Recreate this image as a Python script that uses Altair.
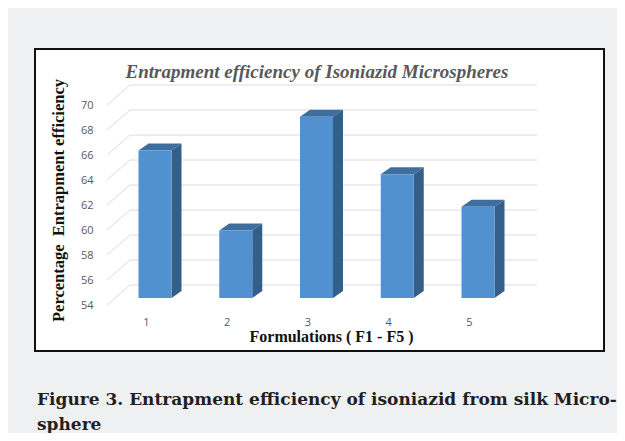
import altair as alt
import pandas as pd

# ---- data ----
formulations = [1, 2, 3, 4, 5]
values = [65.8, 59.4, 68.5, 63.9, 61.3]
y_ticks = [54, 56, 58, 60, 62, 64, 66, 68, 70]
baseline = 54
chart_title = "Entrapment efficiency of Isoniazid Microspheres"
x_title = "Formulations ( F1 - F5 )"
y_title = "Percentage\u00a0 Entrapment efficiency"
caption = ["Figure 3. Entrapment efficiency of isoniazid from silk Micro-", "sphere"]

# ---- layout / styling ----
W, H = 569, 302
PX_X = 80.75        # pixels per formulation step
PX_Y = 12.5         # pixels per percentage unit
x_domain = [1 - 120 / PX_X, 1 + 449 / PX_X]
y_domain = [54 - 53 / PX_Y, 54 + 249 / PX_Y]
half_w = 16.5 / PX_X
dx = 10 / PX_X
dy = 7 / PX_Y

FRONT = "#5191d0"
SIDE = "#345f89"
TOP = "#3e6e9d"
GRID = "#dcdcdc"

xs = alt.Scale(domain=x_domain, nice=False, zero=False)
ys = alt.Scale(domain=y_domain, nice=False, zero=False)

front = pd.DataFrame({
    "f": formulations,
    "x0": [f - half_w for f in formulations],
    "x1": [f + half_w for f in formulations],
    "v": values,
    "b": [baseline] * len(values),
})

side_rows, top_rows = [], []
for f, v in zip(formulations, values):
    x0, x1 = f - half_w, f + half_w
    side_rows += [
        {"id": f, "x": x1, "lo": baseline, "hi": v},
        {"id": f, "x": x1 + dx, "lo": baseline + dy, "hi": v + dy},
    ]
    top_rows += [
        {"id": f, "x": x0, "lo": v, "hi": v},
        {"id": f, "x": x0 + dx, "lo": v, "hi": v + dy},
        {"id": f, "x": x1, "lo": v, "hi": v + dy},
        {"id": f, "x": x1 + dx, "lo": v + dy, "hi": v + dy},
    ]
side = pd.DataFrame(side_rows)
top = pd.DataFrame(top_rows)
grid = pd.DataFrame({"t": y_ticks})

x_axis = alt.Axis(
    values=formulations, format="d", domain=False, ticks=False, grid=False,
    offset=-37, labelPadding=2, labelOffset=-9, labelOverlap=False,
    labelFont="Open Sans", labelFontSize=11, labelColor="#595959",
    title=x_title, titleFont="Liberation Serif", titleFontSize=16,
    titleFontWeight="bold", titleColor="#111111", titlePadding=1, titleX=296,
)
y_axis = alt.Axis(
    values=y_ticks, domain=False, ticks=False, grid=False,
    offset=-62, labelPadding=4, labelOffset=7, labelOverlap=False,
    labelFont="Open Sans", labelFontSize=11, labelColor="#595959",
    title=y_title, titleFont="Liberation Serif", titleFontSize=16.5,
    titleFontWeight="bold", titleColor="#111111", titlePadding=14,
)

back_grid = alt.Chart(grid).mark_rule(color=GRID, strokeWidth=1, yOffset=-13).encode(
    y=alt.Y("t:Q", scale=ys, axis=y_axis),
    x=alt.value(95), x2=alt.value(502),
)
diag = alt.Chart(grid).mark_rule(color=GRID, strokeWidth=1, yOffset=7, y2Offset=-13).encode(
    y=alt.Y("t:Q", scale=ys, axis=y_axis), y2="t:Q",
    x=alt.value(72), x2=alt.value(95),
)

side_l = alt.Chart(side).mark_area(color=SIDE).encode(
    x=alt.X("x:Q", scale=xs, axis=x_axis),
    y=alt.Y("lo:Q", scale=ys, axis=y_axis), y2="hi:Q",
    detail="id:N",
)
top_l = alt.Chart(top).mark_area(color=TOP).encode(
    x=alt.X("x:Q", scale=xs, axis=x_axis),
    y=alt.Y("lo:Q", scale=ys, axis=y_axis), y2="hi:Q",
    detail="id:N",
)
front_l = alt.Chart(front).mark_bar(color=FRONT).encode(
    x=alt.X("x0:Q", scale=xs, axis=x_axis), x2="x1:Q",
    y=alt.Y("v:Q", scale=ys, axis=y_axis), y2="b:Q",
)

title_l = alt.Chart(pd.DataFrame({"t": [chart_title]})).mark_text(
    font="Liberation Serif", fontSize=19, fontStyle="italic", fontWeight="bold",
    color="#595959", align="center", baseline="middle",
).encode(text="t:N", x=alt.value(282), y=alt.value(23))

chart = alt.layer(back_grid, diag, side_l, top_l, front_l, title_l).properties(
    width=W, height=H,
    autosize=alt.AutoSizeParams(type="none"),
    padding={"left": 27, "top": 41, "right": 13, "bottom": 82},
    background="#eff0f2",
    title=alt.TitleParams(
        text=caption, orient="bottom", anchor="start", frame="group",
        font="DejaVu Serif", fontWeight="bold", fontSize=17, color="#231f20",
        lineHeight=25, baseline="top", offset=41, dx=2,
    ),
).configure_view(fill="white", stroke="#111111", strokeWidth=2).configure_axis(
    labelOverlap=False
)

chart.save("out.html", embed_options={"renderer": "svg", "actions": False})
